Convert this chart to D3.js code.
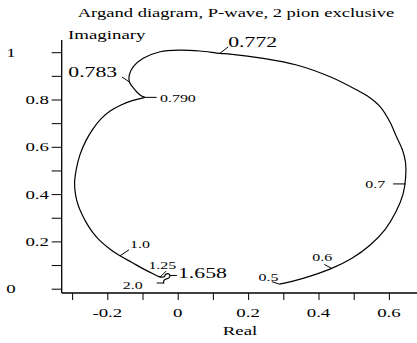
<!DOCTYPE html>
<html><head><meta charset="utf-8">
<script src="https://cdn.jsdelivr.net/npm/d3@7"></script>
<style>body{margin:0;background:#fff}svg{display:block}</style>
</head><body>
<svg id="chart" width="417" height="343"></svg>
<script>
// ---- data ----
const title = "Argand diagram, P-wave, 2 pion exclusive";
const xLabel = "Real";
const yLabel = "Imaginary";
const xTickValues = [-0.2, 0, 0.2, 0.4, 0.6];
const xTickLabels = ["-0.2", "0", "0.2", "0.4", "0.6"];
const xMinorTicks = [-0.3, -0.2, -0.1, 0, 0.1, 0.2, 0.3, 0.4, 0.5, 0.6];
const yTickValues = [0, 0.2, 0.4, 0.6, 0.8, 1];
const yTickLabels = ["0", "0.2", "0.4", "0.6", "0.8", "1"];
const yMinorTicks = [0, 0.1, 0.2, 0.3, 0.4, 0.5, 0.6, 0.7, 0.8, 0.9, 1];
// amplitude trajectory (real, imaginary parts), branch up to 0.790 then branch after it
const realPart = [0.289, 0.356, 0.4375, 0.495, 0.546, 0.589, 0.620, 0.640, 0.6474, 0.6474, 0.6386, 0.622, 0.603, 0.575, 0.543, 0.509, 0.433, 0.338, 0.243, 0.149, 0.120, 0.063, 0.0065, -0.050, -0.098, -0.126, -0.1375, -0.137, -0.126, -0.107, -0.093,
  -0.127, -0.161, -0.192, -0.218, -0.241, -0.261, -0.278, -0.288, -0.293, -0.290, -0.283, -0.272, -0.258, -0.241, -0.221, -0.192, -0.164, -0.130, -0.099, -0.070, -0.053,
  -0.045, -0.0375, -0.034, -0.028, -0.022, -0.025, -0.033, -0.039, -0.040];
const imagPart = [0.019, 0.0436, 0.0858, 0.1285, 0.1835, 0.250, 0.325, 0.399, 0.468, 0.5315, 0.5865, 0.641, 0.705, 0.770, 0.811, 0.840, 0.896, 0.946, 0.974, 0.992, 0.995, 1.005, 1.009, 1.002, 0.974, 0.939, 0.904, 0.874, 0.849, 0.819, 0.809,
  0.796, 0.777, 0.751, 0.718, 0.675, 0.625, 0.565, 0.506, 0.447, 0.396, 0.354, 0.315, 0.275, 0.237, 0.203, 0.167, 0.139, 0.111, 0.085, 0.063, 0.051,
  0.049, 0.052, 0.061, 0.064, 0.057, 0.046, 0.041, 0.035, 0.022];
const cuspIndex = 30; // point labelled 0.790
// energy markers (GeV) on the trajectory
const markerLabels = ["0.5", "0.6", "0.7", "0.772", "0.783", "0.790", "1.0", "1.25", "1.658", "2.0"];
const markerReal = [0.289, 0.4375, 0.648, 0.120, -0.137, -0.093, -0.164, -0.050, -0.022, -0.040];
const markerImag = [0.019, 0.0858, 0.443, 0.995, 0.874, 0.809, 0.139, 0.049, 0.056, 0.024];

// ---- layout / style ----
const SX = 1.45; // horizontal text stretch
const FONT = "Liberation Serif";
// tick vector and label offset for each marker, and label size
const markerStyle = [
  {tx: -7.6, ty: -2.6, lx: -21, ly: -3.6, size: 11},
  {tx: -7.4, ty: -4, lx: -19.4, ly: -7.3, size: 11},
  {tx: -12.7, ty: 0, lx: -40.5, ly: 4.3, size: 11},
  {tx: 8.3, ty: -6.6, lx: 8.3, ly: -6.8, size: 15},
  {tx: -7.5, ty: -5, lx: -61.2, ly: -4.7, size: 15},
  {tx: 11.7, ty: 0, lx: 15, ly: 4.4, size: 11},
  {tx: 9, ty: -6, lx: 10, ly: -7.7, size: 11},
  {tx: 6, ty: -6, lx: -11.7, ly: -7.7, size: 11},
  {tx: 7, ty: 0, lx: 8, ly: 2.8, size: 15},
  {tx: -7, ty: 0, lx: -40.8, ly: 6.3, size: 11}
];

const svg = d3.select("#chart");
const x = d3.scaleLinear().domain([-0.3, 0.6]).range([72.1, 388.9]);
const y = d3.scaleLinear().domain([0, 1]).range([288.7, 52.2]);
const axisX = 61.7, axisY = 293;

function txt(px, py, s, size, anchor) {
  return svg.append("text")
    .attr("transform", `translate(${px},${py}) scale(${SX},1)`)
    .attr("font-family", FONT).attr("font-size", size)
    .attr("text-anchor", anchor || "start").attr("fill", "#000").text(s);
}

// axes lines
svg.append("line").attr("x1", axisX).attr("x2", axisX).attr("y1", 40).attr("y2", axisY)
  .attr("stroke", "#000").attr("stroke-width", 1.3);
svg.append("line").attr("x1", axisX).attr("x2", 417).attr("y1", axisY).attr("y2", axisY)
  .attr("stroke", "#000").attr("stroke-width", 1.3);

// ticks via d3 axes
const gx = svg.append("g").attr("transform", `translate(0,${axisY})`)
  .call(d3.axisBottom(x).tickValues(xMinorTicks).tickSize(7).tickFormat(""));
const gy = svg.append("g").attr("transform", `translate(${axisX},0)`)
  .call(d3.axisLeft(y).tickValues(yMinorTicks).tickSize(10).tickFormat(""));
[gx, gy].forEach(g => {
  g.select(".domain").remove();
  g.selectAll("line").attr("stroke", "#000").attr("stroke-width", 1);
});

// tick labels
xTickValues.forEach((v, i) => txt(x(v), 317, xTickLabels[i], 13, "middle"));
yTickValues.forEach((v, i) => {
  const lab = yTickLabels[i];
  if (lab.length === 1) txt(11, y(v) + 4.5, lab, 13, "middle");
  else txt(49, y(v) + 4.5, lab, 13, "end");
});

// titles
txt(236, 17, title, 12.8, "middle");
txt(68, 39, yLabel, 13, "start");
txt(240, 335, xLabel, 13, "middle");

// curve
const pts = realPart.map((r, i) => [x(r), y(imagPart[i])]);
const line = d3.line().curve(d3.curveCatmullRom.alpha(0.5));
svg.append("path").attr("d", line(pts.slice(0, cuspIndex + 1)))
  .attr("fill", "none").attr("stroke", "#000").attr("stroke-width", 1.2);
svg.append("path").attr("d", line(pts.slice(cuspIndex)))
  .attr("fill", "none").attr("stroke", "#000").attr("stroke-width", 1.2);

// markers
markerLabels.forEach((lab, i) => {
  const px = x(markerReal[i]), py = y(markerImag[i]);
  const st = markerStyle[i];
  svg.append("line").attr("x1", px).attr("y1", py)
    .attr("x2", px + st.tx).attr("y2", py + st.ty)
    .attr("stroke", "#000").attr("stroke-width", 1);
  txt(px + st.lx, py + st.ly, lab, st.size, "start");
});
</script>
</body></html>
